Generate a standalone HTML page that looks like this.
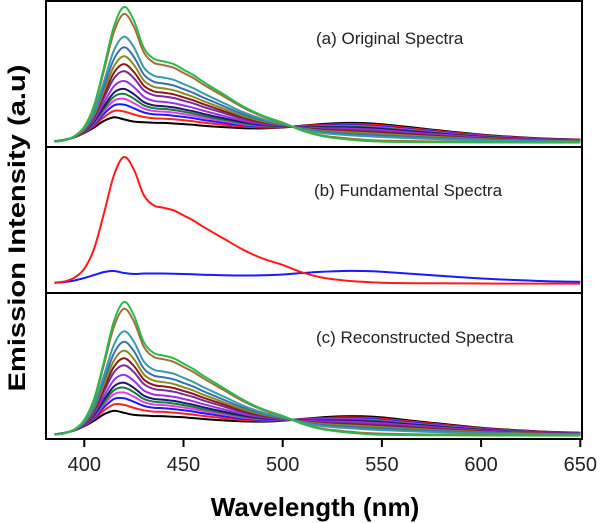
<!DOCTYPE html>
<html><head><meta charset="utf-8"><style>
html,body{margin:0;padding:0;background:#fff;}
svg{display:block;font-family:"Liberation Sans",sans-serif;}
</style></head><body>
<svg id="chart" width="600" height="523" viewBox="0 0 600 523">
<g id="curves"></g>
<g id="frame" fill="none" stroke="#000" stroke-width="2">
<rect x="46" y="1" width="536" height="438"/>
<line x1="46" y1="147" x2="582" y2="147"/>
<line x1="46" y1="293" x2="582" y2="293"/>
</g>
<g id="ticks"></g>
<text x="316" y="44" font-size="17" fill="#222">(a) Original Spectra</text>
<text x="314" y="196" font-size="17" fill="#222">(b) Fundamental Spectra</text>
<text x="316" y="343" font-size="17" fill="#222">(c) Reconstructed Spectra</text>
<text x="315" y="516" font-size="26" font-weight="bold" text-anchor="middle">Wavelength (nm)</text>
<text transform="translate(25,228) rotate(-90)" font-size="24" font-weight="bold" text-anchor="middle" textLength="327" lengthAdjust="spacingAndGlyphs">Emission Intensity (a.u)</text>
</svg>
<script>
const wl=[385,390,395,400,405,410,415,420,425,430,435,440,445,450,455,460,470,480,490,500,510,520,530,540,550,570,600,630,650];
const redSpec=[.01,.02,.05,.12,.28,.56,.86,1.0,.9,.7,.62,.6,.58,.54,.5,.45,.36,.27,.2,.15,.09,.05,.03,.017,.01,.006,.004,.003,.003];
const blueSpecPx=[1,2,3.5,6,9,12,13,11,10,10.5,10.5,10.5,10.2,10,9.7,9.3,8.8,8.5,8.7,9.5,11,12.2,13,13,12.3,9.5,5.5,3,2.2];
const redWeights=[0.05,0.117,0.175,0.224,0.266,0.308,0.375,0.458,0.517,0.583,0.659,0.749,0.942,1];
const blueWeights=[1.425,1.325,1.238,1.164,1.101,1.038,0.938,0.813,0.725,0.626,0.512,0.377,0.087,0];
const curveColors=["#000000","#ff2020","#1a1aff","#e040e0","#1a7a3a","#1a1a6a","#9a30e0","#7a2a9a","#8b1a1a","#8a8a20","#3a70b0","#3a9aa8","#a0703a","#2db84a"];
const xTicks=[400,450,500,550,600,650];

const NS="http://www.w3.org/2000/svg";
const xs=v=>46+(v-380.7)*1.984;
function smooth(pts){
  let d="M"+pts[0][0].toFixed(1)+","+pts[0][1].toFixed(1);
  for(let i=0;i<pts.length-1;i++){
    const p0=pts[Math.max(i-1,0)],p1=pts[i],p2=pts[i+1],p3=pts[Math.min(i+2,pts.length-1)];
    const c1=[p1[0]+(p2[0]-p0[0])/6,p1[1]+(p2[1]-p0[1])/6];
    const c2=[p2[0]-(p3[0]-p1[0])/6,p2[1]-(p3[1]-p1[1])/6];
    d+="C"+c1[0].toFixed(1)+","+c1[1].toFixed(1)+" "+c2[0].toFixed(1)+","+c2[1].toFixed(1)+" "+p2[0].toFixed(1)+","+p2[1].toFixed(1);
  }
  return d;
}
const g=document.getElementById("curves");
function addPath(d,color,name){
  const p=document.createElementNS(NS,"path");
  p.setAttribute("d",d);p.setAttribute("fill","none");p.setAttribute("stroke",color);
  p.setAttribute("stroke-width","2");
  
  
  g.appendChild(p);
}
function panel(base,scale,prefix){
  for(let k=0;k<redWeights.length;k++){
    const pts=wl.map((w,i)=>[xs(w),base-scale*(redWeights[k]*redSpec[i]+blueWeights[k]*blueSpecPx[i]/127)]);
    addPath(smooth(pts),curveColors[k],prefix+"-curve-"+(k+1));
  }
}
panel(143,136,"original");
addPath(smooth(wl.map((w,i)=>[xs(w),284-blueSpecPx[i]])),"#1a1aff","fundamental-blue");
addPath(smooth(wl.map((w,i)=>[xs(w),284-127*redSpec[i]])),"#ff1a1a","fundamental-red");
panel(436,134,"reconstructed");

const t=document.getElementById("ticks");
xTicks.forEach(v=>{
  const l=document.createElementNS(NS,"line");
  l.setAttribute("x1",xs(v));l.setAttribute("x2",xs(v));l.setAttribute("y1",439);l.setAttribute("y2",447);
  l.setAttribute("stroke","#000");l.setAttribute("stroke-width","2");
  
  
  t.appendChild(l);
  const tx=document.createElementNS(NS,"text");
  tx.setAttribute("x",xs(v));tx.setAttribute("y",471);tx.setAttribute("text-anchor","middle");
  tx.setAttribute("font-size","20");tx.setAttribute("fill","#222");
  tx.textContent=v;
  
  
  t.appendChild(tx);
});
</script>
</body></html>
